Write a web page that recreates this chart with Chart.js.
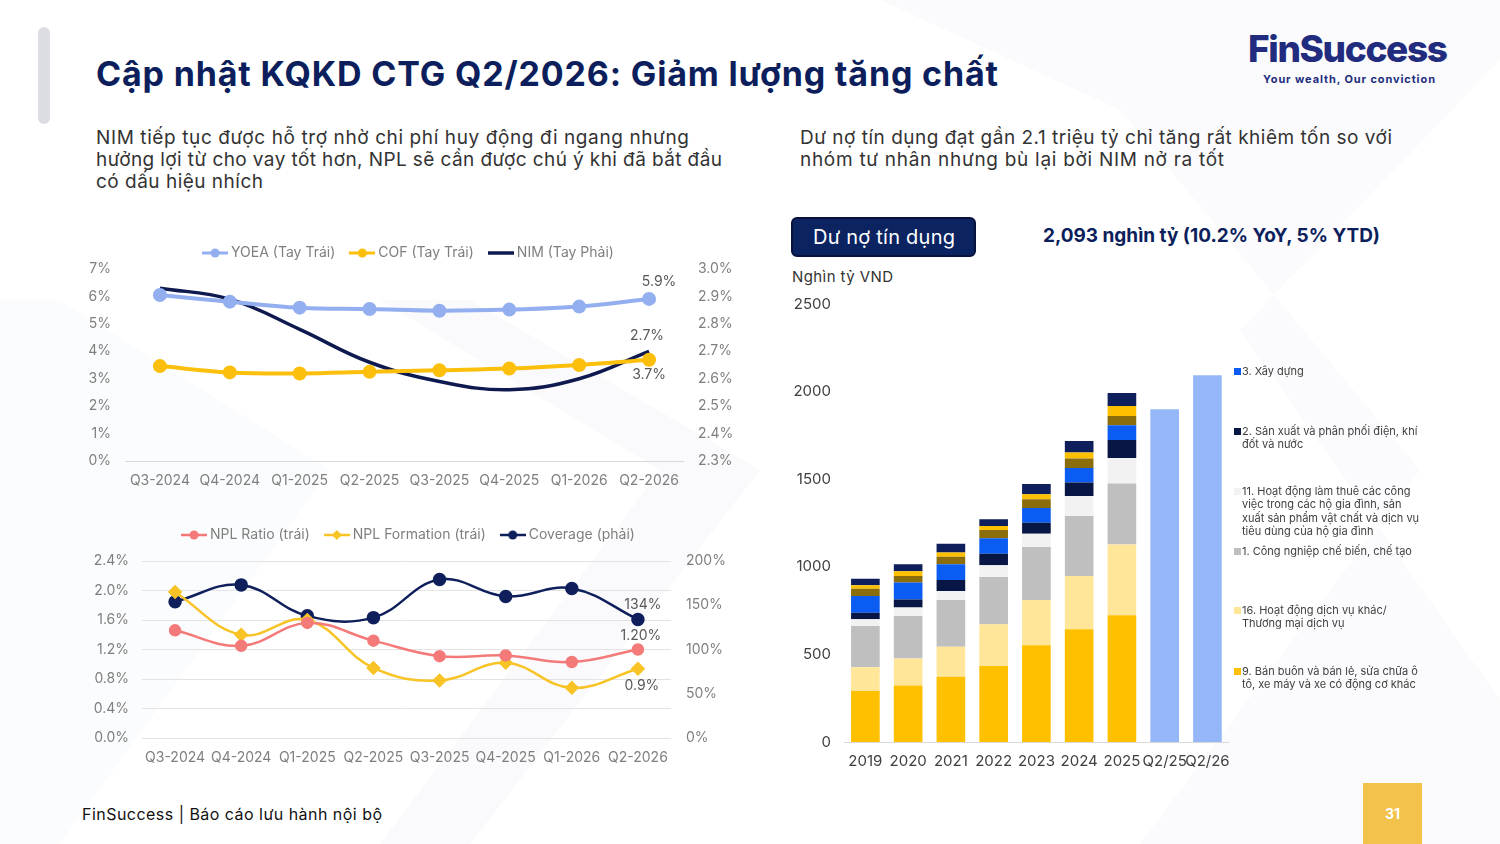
<!DOCTYPE html>
<html lang="vi"><head><meta charset="utf-8">
<script src="https://cdn.jsdelivr.net/npm/chart.js@4.4.1/dist/chart.umd.min.js"></script>
<style>
html,body{margin:0;padding:0;}
body{width:1500px;height:844px;position:relative;overflow:hidden;background:#fff;font-family:Inter,"Noto Sans",sans-serif;color:#333;}
.abs{position:absolute;white-space:nowrap;}
.deco{position:absolute;left:0;top:0;width:1500px;height:844px;}
canvas{position:absolute;}
.leg{position:absolute;left:1234px;font-size:11px;line-height:13.3px;color:#404040;}
.leg .sq{position:absolute;left:0;top:3px;width:7px;height:7px;}
.leg .tx{position:absolute;left:8px;top:0;white-space:nowrap;}
</style></head><body>
<div class="deco" style="background:#f6f7fa;clip-path:polygon(0 300px,60px 300px,330px 470px,60px 844px,0 844px);opacity:.4"></div>
<div class="deco" style="background:#f4f5f9;clip-path:polygon(380px 300px,470px 300px,760px 470px,470px 844px,380px 844px,660px 470px);opacity:.45"></div>
<div class="deco" style="background:#f4f5f9;clip-path:polygon(880px 0,1500px 0,1500px 60px,1240px 330px,1500px 700px,1500px 844px,1140px 844px,1420px 470px,1120px 110px);opacity:.4"></div>

<div class="abs" style="left:38px;top:27px;width:12px;height:97px;border-radius:6px;background:#dcdce3"></div>
<div class="abs fit" data-w="902" style="left:96px;top:53px;font-size:34px;line-height:42px;font-weight:700;color:#0c1f5c">Cập nhật KQKD CTG Q2/2026: Giảm lượng tăng chất</div>

<div class="abs fit" data-w="593" style="left:96px;top:126px;font-size:19px;line-height:24px;color:#333">NIM tiếp tục được hỗ trợ nhờ chi phí huy động đi ngang nhưng</div>
<div class="abs fit" data-w="626" style="left:96px;top:148px;font-size:19px;line-height:24px;color:#333">hưởng lợi từ cho vay tốt hơn, NPL sẽ cần được chú ý khi đã bắt đầu</div>
<div class="abs fit" data-w="167" style="left:96px;top:170px;font-size:19px;line-height:24px;color:#333">có dấu hiệu nhích</div>
<div class="abs fit" data-w="592" style="left:800px;top:126px;font-size:19px;line-height:24px;color:#333">Dư nợ tín dụng đạt gần 2.1 triệu tỷ chỉ tăng rất khiêm tốn so với</div>
<div class="abs fit" data-w="424" style="left:800px;top:148px;font-size:19px;line-height:24px;color:#333">nhóm tư nhân nhưng bù lại bởi NIM nở ra tốt</div>

<div class="abs fit" data-w="200" style="left:1248px;top:27px;font-size:37px;line-height:44px;font-weight:800;color:#222c7e">FinSuccess</div>
<div class="abs fit" data-w="172" style="left:1263px;top:71px;font-size:11px;line-height:16px;font-weight:700;color:#222c7e">Your wealth, Our conviction</div>

<div class="abs" style="left:791px;top:217px;width:181px;height:36px;border:2px solid #07133d;border-radius:6px;background:#0b2461;"></div>
<div class="abs fit" data-w="142" style="left:813px;top:224px;font-size:20px;line-height:26px;color:#fff">Dư nợ tín dụng</div>
<div class="abs fit" data-w="337" style="left:1043px;top:224px;font-size:19px;line-height:24px;font-weight:700;color:#0c1f5c">2,093 nghìn tỷ (10.2% YoY, 5% YTD)</div>
<div class="abs fit" data-w="101" style="left:792px;top:267px;font-size:15px;line-height:19px;color:#333">Nghìn tỷ VND</div>

<canvas id="c1" width="660" height="262" style="left:80px;top:228px;width:660px;height:262px"></canvas>
<canvas id="c2" width="660" height="258" style="left:80px;top:510px;width:660px;height:258px"></canvas>
<canvas id="c3" width="460" height="482" style="left:780px;top:290px;width:460px;height:482px"></canvas>
<div id="legend3"></div>

<div class="abs fit" data-w="300" style="left:82px;top:804px;font-size:16px;line-height:20px;color:#111">FinSuccess | Báo cáo lưu hành nội bộ</div>
<div class="abs" style="left:1363px;top:783px;width:59px;height:61px;background:#f3c24a;color:#fff;font-weight:700;font-size:14px;line-height:61px;text-align:center">31</div>

<script>
// ---------- data ----------
const quarters = ['Q3-2024','Q4-2024','Q1-2025','Q2-2025','Q3-2025','Q4-2025','Q1-2026','Q2-2026'];
const yoea = [6.05, 5.81, 5.59, 5.54, 5.48, 5.52, 5.63, 5.91];
const cof  = [3.46, 3.23, 3.19, 3.25, 3.31, 3.37, 3.50, 3.69];
const nim  = [2.93, 2.89, 2.78, 2.66, 2.59, 2.56, 2.60, 2.70];
const nplRatio     = [1.46, 1.25, 1.56, 1.32, 1.11, 1.12, 1.03, 1.20];
const nplFormation = [1.98, 1.40, 1.60, 0.95, 0.78, 1.02, 0.68, 0.94];
const coverage     = [154, 173, 138, 136, 179, 160, 169, 134];
const leftTicks1 = [0,1,2,3,4,5,6,7];
const rightTicks1 = [2.3,2.4,2.5,2.6,2.7,2.8,2.9,3.0];

const periods = ['2019','2020','2021','2022','2023','2024','2025','Q2/25','Q2/26'];
const sec9  = [291, 323, 373, 434, 552, 643, 723, null, null];   // 9. Bán buôn và bán lẻ
const sec16 = [135, 153, 171, 238, 259, 305, 404, null, null];   // 16. Dịch vụ khác
const sec1  = [236, 243, 267, 270, 302, 342, 348, null, null];   // 1. Công nghiệp chế biến
const sec11 = [38, 48, 51, 67, 76, 114, 146, null, null];        // 11. Hộ gia đình
const sec2  = [38, 47, 63, 66, 63, 77, 103, null, null];         // 2. Điện, khí đốt, nước
const sec3  = [95, 96, 89, 88, 84, 83, 84, null, null];          // 3. Xây dựng
const secA  = [42, 38, 44, 47, 49, 54, 53, null, null];          // ngành khác
const secB  = [19, 26, 23, 23, 29, 34, 57, null, null];          // ngành khác
const secC  = [38, 40, 51, 38, 59, 66, 74, null, null];          // ngành khác
const totalQ2 = [null, null, null, null, null, null, null, 1899, 2093];
const sectorLegend = [
  ['3. Xây dựng'],
  ['2. Sản xuất và phân phối điện, khí','đốt và nước'],
  ['11. Hoạt động làm thuê các công','việc trong các hộ gia đình, sản','xuất sản phẩm vật chất và dịch vụ','tiêu dùng của hộ gia đình'],
  ['1. Công nghiệp chế biến, chế tạo'],
  ['16. Hoạt động dịch vụ khác/','Thương mại dịch vụ'],
  ['9. Bán buôn và bán lẻ, sửa chữa ô','tô, xe máy và xe có động cơ khác']
];

// ---------- helpers ----------
const FONT = 'Inter, "Noto Sans", sans-serif';
document.querySelectorAll('.fit').forEach(el=>{
  const target = +el.dataset.w;
  const w = el.getBoundingClientRect().width;
  const n = el.textContent.length - 1;
  if (n>0) el.style.letterSpacing = ((target - w)/n).toFixed(3)+'px';
});

function icon(color, marker, lw, r){
  const c = document.createElement('canvas');
  c.width = 26; c.height = 14;
  const g = c.getContext('2d');
  g.strokeStyle = color; g.fillStyle = color; g.lineWidth = lw;
  g.beginPath(); g.moveTo(0,7); g.lineTo(26,7); g.stroke();
  if (marker==='circle'){ g.beginPath(); g.arc(13,7,r,0,Math.PI*2); g.fill(); }
  if (marker==='diamond'){ g.beginPath(); g.moveTo(13,7-r); g.lineTo(13+r,7); g.lineTo(13,7+r); g.lineTo(13-r,7); g.closePath(); g.fill(); }
  return c;
}
const legendHeight = {
  id:'legendHeight',
  beforeLayout(chart, args, opts){
    if (chart.legend && !chart.legend._patched){
      const orig = chart.legend.fit;
      chart.legend.fit = function(){ orig.call(this); this.height = opts.h; };
      chart.legend._patched = true;
    }
  }
};
const endLabels = {
  id:'endLabels',
  afterDatasetsDraw(chart){
    const ctx = chart.ctx;
    chart.data.datasets.forEach((ds,i)=>{
      if (!ds.endLabel) return;
      const n = ds.data.length-1;
      const pt = chart.getDatasetMeta(i).data[n];
      ctx.save();
      ctx.font = '14px '+FONT; ctx.fillStyle = '#595959';
      ctx.textAlign = 'center'; ctx.textBaseline = 'middle';
      ctx.fillText(ds.endLabel.fmt(ds.data[n]), pt.x + ds.endLabel.dx, pt.y + ds.endLabel.dy);
      ctx.restore();
    });
  }
};
function legendOpts(){
  return {
    position:'top',
    labels:{
      usePointStyle:true, pointStyleWidth:18, padding:18, color:'#7f7f7f',
      font:{family:FONT,size:14},
      generateLabels(chart){
        const items = Chart.defaults.plugins.legend.labels.generateLabels(chart);
        items.forEach((it)=>{ it.pointStyle = chart.data.datasets[it.datasetIndex].legendIcon; });
        return items;
      }
    }
  };
}
const tickFont = {family:FONT,size:14};
const GRAY = '#7f7f7f';

// ---------- chart 1 ----------
new Chart(document.getElementById('c1'), {
  type:'line',
  plugins:[legendHeight, endLabels],
  data:{labels:quarters, datasets:[
    {label:'YOEA (Tay Trái)', data:yoea, yAxisID:'y', borderColor:'#93aff0', backgroundColor:'#93aff0',
     borderWidth:4, pointRadius:5, pointHoverRadius:5, tension:0.4, legendIcon:icon('#93aff0','circle',3,4.5),
     endLabel:{fmt:v=>v.toFixed(1)+'%', dx:10, dy:-17}},
    {label:'COF (Tay Trái)', data:cof, yAxisID:'y', borderColor:'#fbbf0c', backgroundColor:'#fbbf0c',
     borderWidth:4, pointRadius:5, pointHoverRadius:5, tension:0.4, legendIcon:icon('#fbbf0c','circle',3,4.5),
     endLabel:{fmt:v=>v.toFixed(1)+'%', dx:0, dy:15}},
    {label:'NIM (Tay Phải)', data:nim, yAxisID:'y1', borderColor:'#0e1a4f', backgroundColor:'#0e1a4f',
     borderWidth:3.5, pointRadius:0, pointHoverRadius:0, tension:0.4, legendIcon:icon('#0e1a4f',null,3.5,0),
     endLabel:{fmt:v=>v.toFixed(1)+'%', dx:-2, dy:-15}}
  ]},
  options:{
    responsive:false, animation:false, devicePixelRatio:1,
    layout:{padding:0},
    plugins:{legend:legendOpts(), legendHeight:{h:41}, tooltip:{enabled:false}},
    scales:{
      x:{offset:true, grid:{display:false, drawTicks:false}, border:{display:false},
         ticks:{color:GRAY, font:tickFont, padding:11, autoSkip:false, maxRotation:0, minRotation:0},
         afterFit:s=>{s.height=29;}},
      y:{position:'left', min:0, max:7, border:{display:false},
         grid:{drawTicks:false, color:c=>c.tick && c.tick.value===0 ? '#d9d9d9':'rgba(0,0,0,0)', lineWidth:1},
         afterBuildTicks:s=>{s.ticks = leftTicks1.map(v=>({value:v}));},
         ticks:{color:GRAY, font:tickFont, padding:14, callback:v=>v+'%'},
         afterFit:s=>{s.width=45;}},
      y1:{position:'right', min:2.3, max:3.0, border:{display:false}, grid:{display:false, drawTicks:false},
         afterBuildTicks:s=>{s.ticks = rightTicks1.map(v=>({value:v}));},
         ticks:{color:GRAY, font:tickFont, padding:14, callback:v=>v.toFixed(1)+'%'},
         afterFit:s=>{s.width=56;}}
    }
  }
});

// ---------- chart 2 ----------
new Chart(document.getElementById('c2'), {
  type:'line',
  plugins:[legendHeight, endLabels],
  data:{labels:quarters, datasets:[
    {label:'NPL Ratio (trái)', data:nplRatio, yAxisID:'y', borderColor:'#f47a7a', backgroundColor:'#f47a7a',
     borderWidth:2.5, pointRadius:5, pointHoverRadius:5, tension:0.4, legendIcon:icon('#f47a7a','circle',2.5,4.5),
     endLabel:{fmt:v=>v.toFixed(2)+'%', dx:3, dy:-14}},
    {label:'NPL Formation (trái)', data:nplFormation, yAxisID:'y', borderColor:'#f8c325', backgroundColor:'#f8c325',
     borderWidth:2.5, pointStyle:'rectRot', pointRadius:5.5, pointHoverRadius:5.5, tension:0.4, legendIcon:icon('#f8c325','diamond',2.5,5),
     endLabel:{fmt:v=>v.toFixed(1)+'%', dx:4, dy:17}},
    {label:'Coverage (phải)', data:coverage, yAxisID:'y1', borderColor:'#0e1f5b', backgroundColor:'#0e1f5b',
     borderWidth:2.5, pointRadius:5.5, pointHoverRadius:5.5, tension:0.4, legendIcon:icon('#0e1f5b','circle',2.5,4.5),
     endLabel:{fmt:v=>v.toFixed(0)+'%', dx:5, dy:-15}}
  ]},
  options:{
    responsive:false, animation:false, devicePixelRatio:1,
    layout:{padding:0},
    plugins:{legend:legendOpts(), legendHeight:{h:51}, tooltip:{enabled:false}},
    scales:{
      x:{offset:true, grid:{display:false, drawTicks:false}, border:{display:false},
         ticks:{color:GRAY, font:tickFont, padding:11, autoSkip:false, maxRotation:0, minRotation:0},
         afterFit:s=>{s.height=30;}},
      y:{position:'left', min:0, max:2.4, border:{display:false},
         grid:{drawTicks:false, color:'#e3e3e3', lineWidth:1},
         ticks:{stepSize:0.4, color:GRAY, font:tickFont, padding:13, callback:v=>v.toFixed(1)+'%'},
         afterFit:s=>{s.width=62;}},
      y1:{position:'right', min:0, max:200, border:{display:false}, grid:{display:false, drawTicks:false},
         ticks:{stepSize:50, color:GRAY, font:tickFont, padding:15, callback:v=>v+'%'},
         afterFit:s=>{s.width=69;}}
    }
  }
});

// ---------- chart 3 ----------
const stackSeries = [
  {name:'9. Bán buôn và bán lẻ', data:sec9, color:'#ffc000'},
  {name:'16. Hoạt động dịch vụ khác', data:sec16, color:'#ffe699'},
  {name:'1. Công nghiệp chế biến, chế tạo', data:sec1, color:'#bfbfbf'},
  {name:'11. Hoạt động làm thuê', data:sec11, color:'#f2f2f2'},
  {name:'2. Sản xuất và phân phối điện, khí đốt và nước', data:sec2, color:'#081645'},
  {name:'3. Xây dựng', data:sec3, color:'#0b5cf2'},
  {name:'Khác A', data:secA, color:'#8c6d0c'},
  {name:'Khác B', data:secB, color:'#ffc000'},
  {name:'Khác C', data:secC, color:'#0e1f5c'},
  {name:'Tổng dư nợ', data:totalQ2, color:'#95b7f7'}
];
new Chart(document.getElementById('c3'), {
  type:'bar',
  data:{labels:periods, datasets:stackSeries.map(s=>({label:s.name, data:s.data, backgroundColor:s.color,
    borderWidth:0, barPercentage:0.67, categoryPercentage:1, stack:'s'}))},
  options:{
    responsive:false, animation:false, devicePixelRatio:1,
    layout:{padding:{top:14, right:6, left:0, bottom:0}},
    plugins:{legend:{display:false}, tooltip:{enabled:false}},
    scales:{
      x:{stacked:true, grid:{display:false, drawTicks:false}, border:{display:true, color:'#d9d9d9', width:1},
         ticks:{color:'#404040', font:{family:FONT,size:15}, padding:10, autoSkip:false, maxRotation:0, minRotation:0},
         afterFit:s=>{s.height=30;}},
      y:{stacked:true, min:0, max:2500, grid:{display:false, drawTicks:false}, border:{display:false},
         ticks:{stepSize:500, color:'#404040', font:{family:FONT,size:15}, padding:13, callback:v=>String(v)},
         afterFit:s=>{s.width=64; s.paddingTop=0; s.paddingBottom=0;}}
    }
  }
});

// HTML legend for chart 3 (order as in picture)
const legColors = ['#0b5cf2','#081645','#f2f2f2','#bfbfbf','#ffe699','#ffc000'];
const legTops = [365, 425, 485, 545, 604, 665];
const legRoot = document.getElementById('legend3');
sectorLegend.forEach((lines,i)=>{
  const d = document.createElement('div');
  d.className = 'leg'; d.style.top = legTops[i]+'px';
  d.innerHTML = '<div class="sq" style="background:'+legColors[i]+'"></div><div class="tx">'+lines.join('<br>')+'</div>';
  legRoot.appendChild(d);
});
</script>
</body></html>
